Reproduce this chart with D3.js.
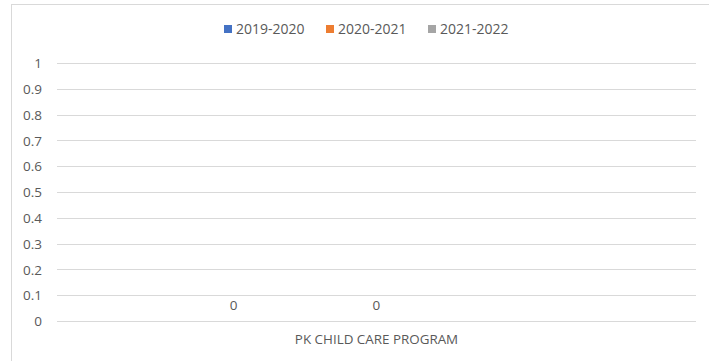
<!DOCTYPE html>
<html><head><meta charset="utf-8">
<script src="https://cdn.jsdelivr.net/npm/d3@7"></script>
<style>html,body{margin:0;padding:0;background:#fff;}svg{display:block;}</style>
</head><body>
<svg id="chart" width="709" height="361"></svg>
<script>
const categories = ["PK CHILD CARE PROGRAM"];
const seriesNames = ["2019-2020", "2020-2021", "2021-2022"];
const seriesColors = ["#4472C4", "#ED7D31", "#A5A5A5"];
const values2019_2020 = [0];
const values2020_2021 = [0];
const values2021_2022 = [null];
const yTicks = [0, 0.1, 0.2, 0.3, 0.4, 0.5, 0.6, 0.7, 0.8, 0.9, 1];

(function () {
const seriesValues = [values2019_2020, values2020_2021, values2021_2022];
const svg = d3.select("#chart");
const font = "'Open Sans', sans-serif";
const textColor = "#595959";

// chart border (extends beyond the visible area at right/bottom)
svg.append("rect").attr("x", 11.5).attr("y", 4.5).attr("width", 720).attr("height", 380)
  .attr("fill", "none").attr("stroke", "#D9D9D9").attr("stroke-width", 1);

const plotLeft = 57, plotRight = 696, plotTop = 63, plotBottom = 321;
const y = d3.scaleLinear().domain([0, 1]).range([plotBottom, plotTop]);
const x0 = d3.scaleBand().domain(categories).range([plotLeft, plotRight]).paddingInner(0).paddingOuter(0.2448);
const x1 = d3.scaleBand().domain(seriesNames).range([0, x0.bandwidth()]).padding(0);

// gridlines
svg.append("g").selectAll("line").data(yTicks).join("line")
  .attr("x1", plotLeft).attr("x2", plotRight)
  .attr("y1", d => Math.round(y(d)) + 0.5).attr("y2", d => Math.round(y(d)) + 0.5)
  .attr("stroke", "#D9D9D9").attr("stroke-width", 1);

// y axis labels
const yAxis = d3.axisLeft(y).tickValues(yTicks).tickSize(0).tickPadding(0).tickFormat(d3.format("~g"));
const gy = svg.append("g").attr("transform", `translate(42,0)`).call(yAxis);
gy.select(".domain").remove();
gy.selectAll("text").attr("font-family", font).attr("font-size", 13.5).attr("fill", textColor).attr("dy", "0.35em");

// x axis labels
const xAxis = d3.axisBottom(x0).tickSize(0).tickPadding(0);
const gx = svg.append("g").attr("transform", `translate(0,334)`).call(xAxis);
gx.select(".domain").remove();
gx.selectAll("text").attr("font-family", font).attr("font-size", 13.4).attr("fill", textColor);

// bars and data labels
const groups = svg.append("g").selectAll("g").data(categories).join("g")
  .attr("transform", d => `translate(${x0(d)},0)`);
seriesNames.forEach((s, si) => {
  const vals = categories.map((c, ci) => ({c, v: seriesValues[si][ci]})).filter(d => d.v !== null);
  groups.selectAll(null).data((c) => vals.filter(d => d.c === c)).join("rect")
    .attr("x", x1(s)).attr("width", x1.bandwidth())
    .attr("y", d => y(d.v)).attr("height", d => y(0) - y(d.v))
    .attr("fill", seriesColors[si]);
  groups.selectAll(null).data((c) => vals.filter(d => d.c === c)).join("text")
    .attr("x", x1(s) + x1.bandwidth() / 2).attr("y", d => y(d.v) - 16)
    .attr("dy", "0.35em").attr("text-anchor", "middle")
    .attr("font-family", font).attr("font-size", 13.5).attr("fill", textColor)
    .text(d => d3.format("~g")(d.v));
});

// legend
const legendX = [224, 326, 428];
const lg = svg.append("g").selectAll("g").data(seriesNames).join("g")
  .attr("transform", (d, i) => `translate(${legendX[i]},29)`);
lg.append("rect").attr("x", 0).attr("y", -4).attr("width", 8).attr("height", 8).attr("fill", (d, i) => seriesColors[i]);
lg.append("text").attr("x", 12).attr("y", 0).attr("dy", "0.35em")
  .attr("font-family", font).attr("font-size", 14).attr("fill", textColor).text(d => d);
})();
</script>
</body></html>
